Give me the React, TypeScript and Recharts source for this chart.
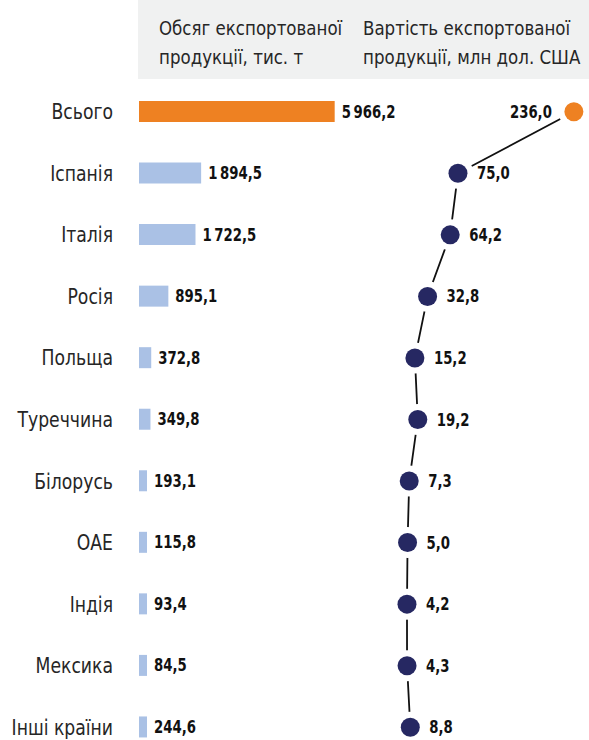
import { Bar, Cell, ComposedChart, LabelList, Line, XAxis, YAxis } from 'recharts'

const categories = [
  'Всього',
  'Іспанія',
  'Італія',
  'Росія',
  'Польща',
  'Туреччина',
  'Білорусь',
  'ОАЕ',
  'Індія',
  'Мексика',
  'Інші країни',
]
const volume = [5966.2, 1894.5, 1722.5, 895.1, 372.8, 349.8, 193.1, 115.8, 93.4, 84.5, 244.6]
const exportValue = [236.0, 75.0, 64.2, 32.8, 15.2, 19.2, 7.3, 5.0, 4.2, 4.3, 8.8]
const volumeHeader = ['Обсяг експортованої', 'продукції, тис. т']
const valueHeader = ['Вартість експортованої', 'продукції, млн дол. США']

const data = categories.map((name, i) => ({ name, volume: volume[i], value: exportValue[i] }))

const FONT = "'DejaVu Sans Condensed', 'DejaVu Sans', sans-serif"
const ORANGE = '#ee8122'
const BLUE = '#aac1e5'
const NAVY = '#262862'
const TEXT = '#262626'

function fmt(v: number) {
  const [int, dec] = v.toFixed(1).split('.')
  return int.replace(/\B(?=(\d{3})+(?!\d))/g, '\u2009') + ',' + dec
}

// condensed text: DejaVu is wider than the source font, so squeeze it horizontally
function NarrowText({ x, y, anchor = 'start', size, bold, sx, children }: any) {
  return (
    <text
      transform={`translate(${x} ${y}) scale(${sx} 1)`}
      textAnchor={anchor}
      dominantBaseline="central"
      fontSize={size}
      fontWeight={bold ? 'bold' : 'normal'}
      fill={bold ? '#111' : TEXT}
      fontFamily={FONT}
    >
      {children}
    </text>
  )
}

function CategoryTick({ y, payload }: any) {
  return (
    <NarrowText x={113} y={y} anchor="end" size={22} sx={0.87}>
      {payload.value}
    </NarrowText>
  )
}

function VolumeLabel({ x, y, width, height, value }: any) {
  return (
    <NarrowText x={x + width + 7} y={y + height / 2} size={18} bold sx={0.82}>
      {fmt(value)}
    </NarrowText>
  )
}

function ValueLabel({ x, y, value, index }: any) {
  const first = index === 0
  return (
    <NarrowText x={first ? x - 22 : x + 19} y={y} anchor={first ? 'end' : 'start'} size={18} bold sx={0.82}>
      {fmt(value)}
    </NarrowText>
  )
}

function ValueDot({ cx, cy, index }: any) {
  return (
    <g key={`dot-${index}`}>
      <circle cx={cx} cy={cy} r={15.5} fill="#fff" />
      <circle cx={cx} cy={cy} r={9.5} fill={index === 0 ? ORANGE : NAVY} />
    </g>
  )
}

export default function App() {
  return (
    <div
      style={{
        position: 'absolute',
        left: 0,
        top: 0,
        width: 589,
        height: 740,
        overflow: 'hidden',
        background: '#fff',
        fontFamily: FONT,
      }}
    >
      <div
        style={{
          position: 'absolute',
          left: 138,
          top: 0,
          width: 451,
          height: 79,
          background: '#f0f1f1',
        }}
      />
      {[volumeHeader, valueHeader].map((lines, i) => (
        <div
          key={i}
          style={{
            position: 'absolute',
            left: i === 0 ? 159 : 363,
            top: 14,
            fontSize: 20,
            lineHeight: '29px',
            color: TEXT,
            whiteSpace: 'nowrap',
            transform: 'scaleX(0.925)',
            transformOrigin: 'left top',
          }}
        >
          {lines.map((l) => (
            <div key={l}>{l}</div>
          ))}
        </div>
      ))}
      <div style={{ position: 'absolute', left: 0, top: 0 }}>
        <ComposedChart
          width={589}
          height={760}
          layout="vertical"
          data={data}
          margin={{ top: 81, right: 0, bottom: 2, left: 0 }}
        >
          <YAxis
            type="category"
            dataKey="name"
            width={139}
            axisLine={false}
            tickLine={false}
            tick={<CategoryTick />}
            interval={0}
          />
          <XAxis xAxisId="vol" type="number" domain={[0, 13720]} allowDataOverflow hide />
          <XAxis xAxisId="val" type="number" domain={[-368, 257]} allowDataOverflow hide />
          <Bar
            xAxisId="vol"
            dataKey="volume"
            barSize={21}
            minPointSize={8}
            isAnimationActive={false}
          >
            {data.map((d, i) => (
              <Cell key={d.name} fill={i === 0 ? ORANGE : BLUE} />
            ))}
            <LabelList dataKey="volume" content={<VolumeLabel />} />
          </Bar>
          <Line
            xAxisId="val"
            dataKey="value"
            stroke="#111"
            strokeWidth={1.8}
            dot={<ValueDot />}
            activeDot={false}
            isAnimationActive={false}
          >
            <LabelList dataKey="value" content={<ValueLabel />} />
          </Line>
        </ComposedChart>
      </div>
    </div>
  )
}
